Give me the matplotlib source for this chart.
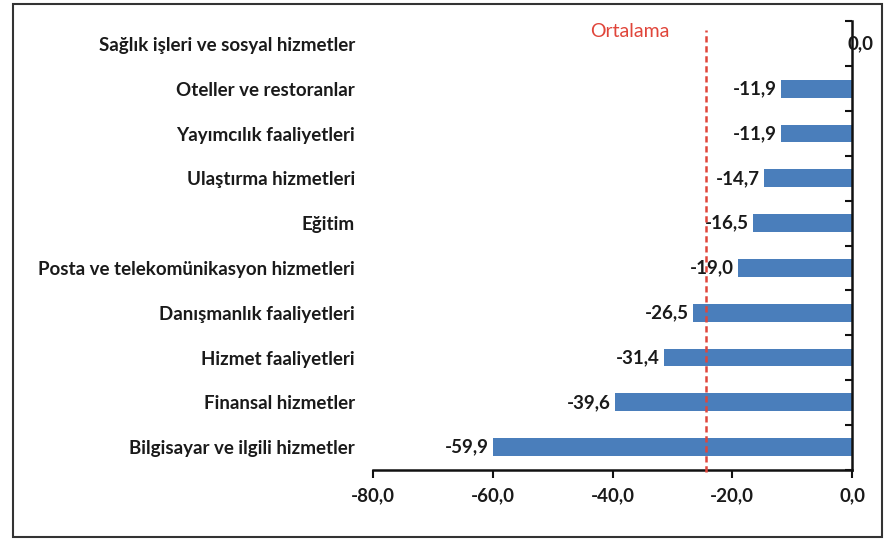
import matplotlib
matplotlib.use("Agg")
import matplotlib.pyplot as plt
from matplotlib.patches import Rectangle
import numpy as np

categories = [
    "Sağlık işleri ve sosyal hizmetler",
    "Oteller ve restoranlar",
    "Yayımcılık faaliyetleri",
    "Ulaştırma hizmetleri",
    "Eğitim",
    "Posta ve telekomünikasyon hizmetleri",
    "Danışmanlık faaliyetleri",
    "Hizmet faaliyetleri",
    "Finansal hizmetler",
    "Bilgisayar ve ilgili hizmetler",
]
values = [0.0, -11.9, -11.9, -14.7, -16.5, -19.0, -26.5, -31.4, -39.6, -59.9]
average = -24.4
avg_label = "Ortalama"
xticks = [-80, -60, -40, -20, 0]

plt.rcParams['font.family'] = ['Lato', 'DejaVu Sans']

W, H = 891, 540
fig = plt.figure(figsize=(W / 100, H / 100), dpi=100)
ax = fig.add_axes([373 / W, 1 - 469.5 / H, (852 - 373) / W, (469.5 - 21.5) / H])

n = len(categories)
ypos = np.arange(n)
bar_color = "#4A7EBB"
ax.barh(ypos, values, height=0.4, color=bar_color, zorder=2)
ax.set_ylim(n - 0.5, -0.5)
ax.set_xlim(-80, 0)

FS = 13.5
# labels
for y, v in zip(ypos, values):
    txt = f"{v:.1f}".replace(".", ",")
    if v == 0:
        ax.annotate(txt, (0, y), xytext=(-3, 0), textcoords="offset points",
                    ha="left", va="center", fontsize=FS, fontweight="bold",
                    color="#1a1a1a", zorder=3)
    else:
        ax.annotate(txt, (v, y), xytext=(-3, 0), textcoords="offset points",
                    ha="right", va="center", fontsize=FS, fontweight="bold",
                    color="#1a1a1a", zorder=3)

# average line
ax.plot([average, average], [n - 0.5 + 0.05, -0.3], color="#E0453A",
        linestyle=(0, (2.5, 1.5)), linewidth=1.8, zorder=4, clip_on=False)
ax.text(average - 6, -0.28, avg_label, color="#E0453A", fontsize=14,
        ha="right", va="center")

# spines
ax.spines["left"].set_visible(False)
ax.spines["top"].set_visible(False)
for s in ("right", "bottom"):
    ax.spines[s].set_linewidth(1.8)
    ax.spines[s].set_color("#111111")

ax.set_xticks(xticks)
ax.set_xticklabels([f"{t:.1f}".replace(".", ",") for t in xticks])
ax.tick_params(axis="x", direction="out", length=6, width=1.5, pad=7,
               labelsize=FS, color="#111111")
for lab in ax.get_xticklabels():
    lab.set_fontweight("bold")
    lab.set_color("#1a1a1a")

ax.set_yticks(ypos)
ax.set_yticklabels(categories)
ax.tick_params(axis="y", which="major", left=False, right=False, length=0,
               pad=13, labelsize=FS)
for lab in ax.get_yticklabels():
    lab.set_fontweight("bold")
    lab.set_color("#1a1a1a")
ax.set_yticks(np.arange(-0.5, n, 1.0), minor=True)
ax.tick_params(axis="y", which="minor", left=False, right=True,
               direction="in", length=5, width=1.5, color="#111111")

# outer frame
fig.patches.append(Rectangle((13 / W, 1 - 537 / H), (882 - 13) / W, (537 - 4) / H,
                             transform=fig.transFigure, fill=False,
                             edgecolor="#333333", linewidth=1.5))

fig.savefig("out.png", dpi=100)
